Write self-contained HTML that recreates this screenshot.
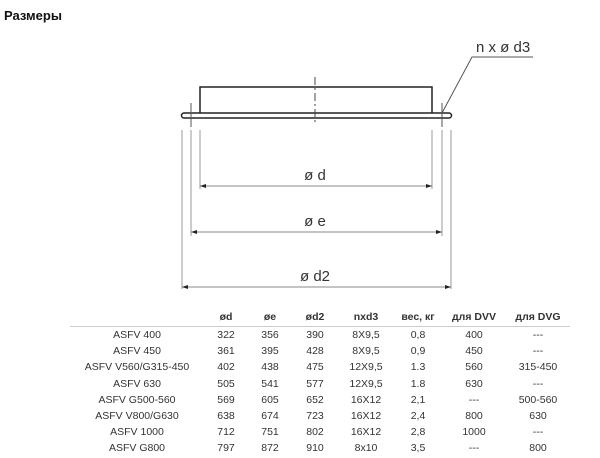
<!DOCTYPE html>
<html><head><meta charset="utf-8"><style>
body{margin:0;width:600px;height:458px;background:#fff;position:relative;overflow:hidden;font-family:"Liberation Sans",sans-serif}
.t{position:absolute;left:4px;top:8px;font-weight:bold;font-size:13px;color:#111}
table{position:absolute;left:70px;top:308px;border-collapse:collapse;font-size:10.5px;color:#333}
td,th{padding:0;height:16.2px;text-align:center;white-space:nowrap}
th{height:18px;font-weight:bold;border-bottom:1px solid #ccc;vertical-align:middle}
</style></head><body>
<div class="t">Размеры</div>
<svg width="600" height="300" style="position:absolute;left:0;top:0" font-family="Liberation Sans, sans-serif">
<defs><marker id="a" viewBox="0 0 6 4" refX="6" refY="2" markerWidth="6" markerHeight="4" orient="auto-start-reverse"><path d="M0,0L6,2L0,4z" fill="#222"/></marker></defs>
<g fill="none" stroke="#222" stroke-width="1.5">
<path d="M200,113V87H432V113"/>
<rect x="181.5" y="113" width="270" height="5" rx="2.5"/>
</g>
<path d="M315,77V124" stroke="#444" stroke-width="1" stroke-dasharray="8,3,2,3"/>
<g stroke="#555" stroke-width="1" fill="none">
<path d="M191,103V127M442,103V127"/>
<path d="M442,113L472,57H533"/>
</g>
<g stroke="#999" stroke-width="1">
<path d="M182,130V289M191,130V236M200,130V189M432,130V189M442,130V236M451,130V289"/>
</g>
<g stroke="#888" stroke-width="1">
<line x1="200" y1="186" x2="432" y2="186" marker-start="url(#a)" marker-end="url(#a)"/>
<line x1="191" y1="232" x2="442" y2="232" marker-start="url(#a)" marker-end="url(#a)"/>
<line x1="182" y1="287" x2="451" y2="287" marker-start="url(#a)" marker-end="url(#a)"/>
</g>
<g font-size="15" fill="#333" text-anchor="middle">
<text x="315" y="180">ø d</text>
<text x="315" y="226">ø e</text>
<text x="315" y="281">ø d2</text>
<text x="476" y="52" text-anchor="start">n x ø d3</text>
</g>
</svg>
<table>
<colgroup><col style="width:134px"><col style="width:44px"><col style="width:44px"><col style="width:46px"><col style="width:56px"><col style="width:48px"><col style="width:64px"><col style="width:64px"></colgroup>
<tr><th></th><th>ød</th><th>øe</th><th>ød2</th><th>nxd3</th><th>вес, кг</th><th>для DVV</th><th>для DVG</th></tr>
<tr><td>ASFV 400</td><td>322</td><td>356</td><td>390</td><td>8X9,5</td><td>0,8</td><td>400</td><td>---</td></tr>
<tr><td>ASFV 450</td><td>361</td><td>395</td><td>428</td><td>8X9,5</td><td>0,9</td><td>450</td><td>---</td></tr>
<tr><td>ASFV V560/G315-450</td><td>402</td><td>438</td><td>475</td><td>12X9,5</td><td>1.3</td><td>560</td><td>315-450</td></tr>
<tr><td>ASFV 630</td><td>505</td><td>541</td><td>577</td><td>12X9,5</td><td>1.8</td><td>630</td><td>---</td></tr>
<tr><td>ASFV G500-560</td><td>569</td><td>605</td><td>652</td><td>16X12</td><td>2,1</td><td>---</td><td>500-560</td></tr>
<tr><td>ASFV V800/G630</td><td>638</td><td>674</td><td>723</td><td>16X12</td><td>2,4</td><td>800</td><td>630</td></tr>
<tr><td>ASFV 1000</td><td>712</td><td>751</td><td>802</td><td>16X12</td><td>2,8</td><td>1000</td><td>---</td></tr>
<tr><td>ASFV G800</td><td>797</td><td>872</td><td>910</td><td>8x10</td><td>3,5</td><td>---</td><td>800</td></tr>
</table>
</body></html>
